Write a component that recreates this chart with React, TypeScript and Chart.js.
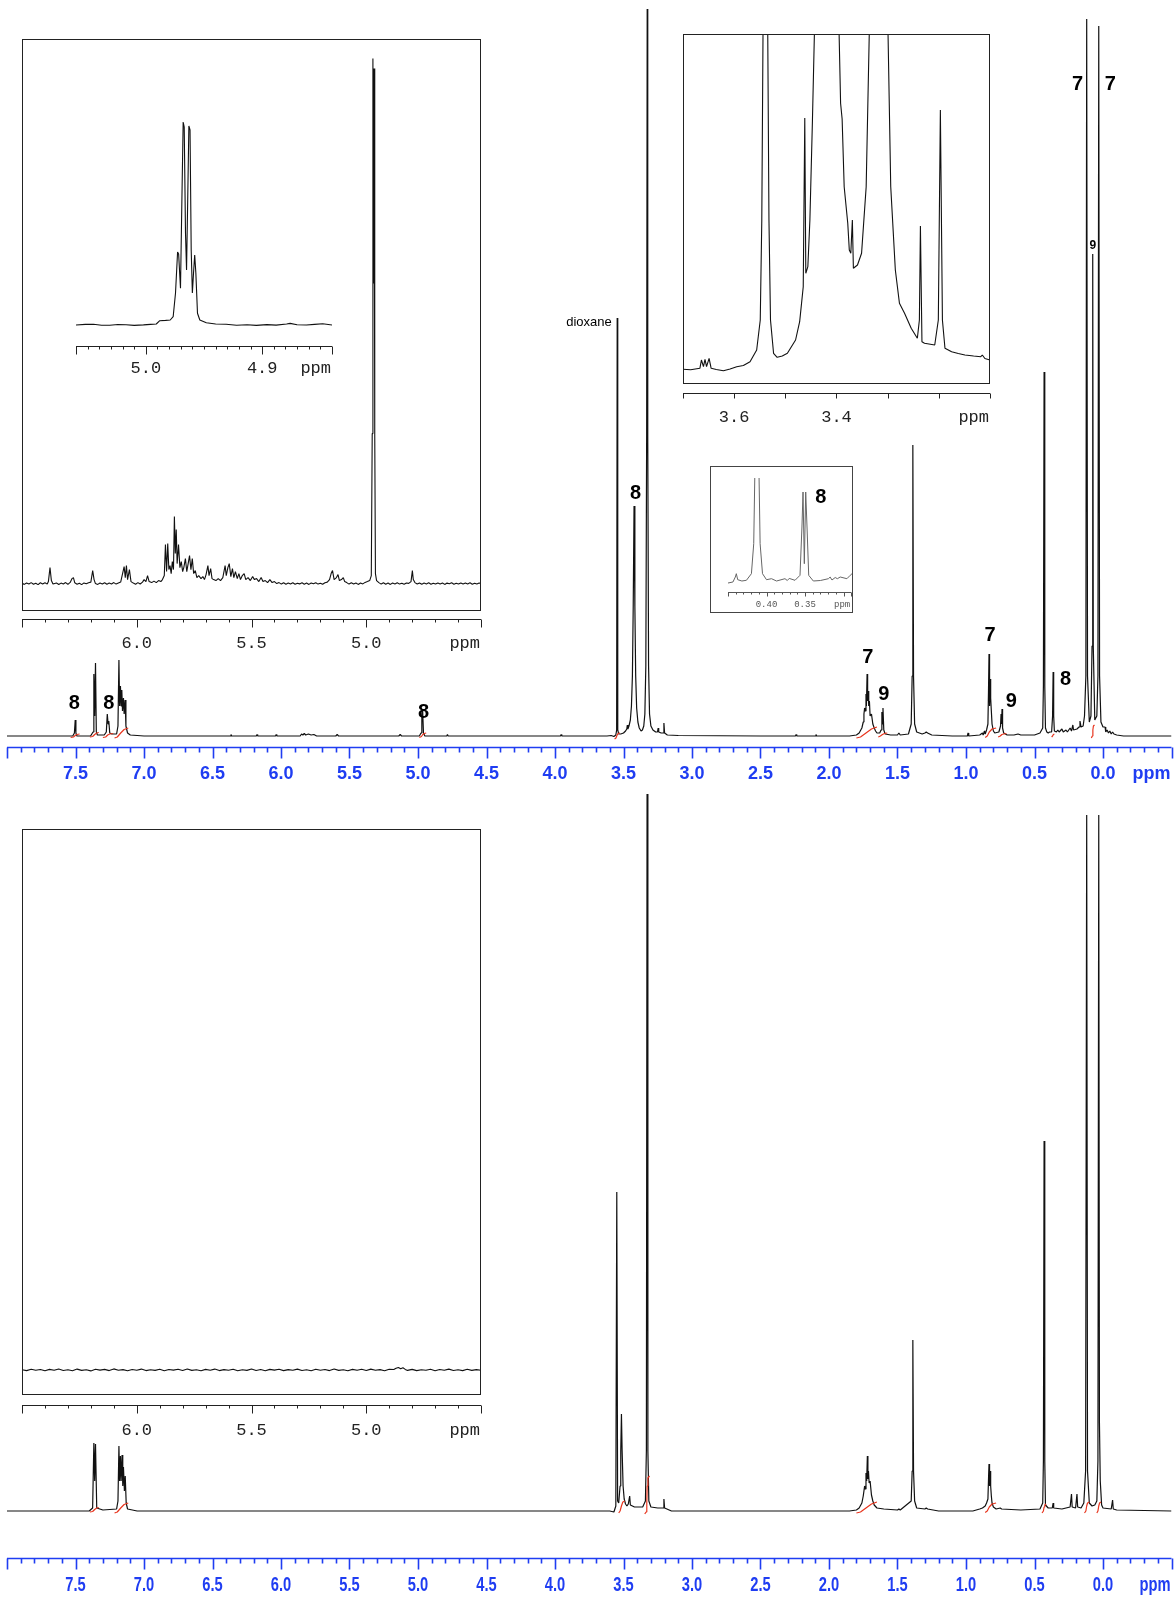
import React, { useEffect, useRef } from 'react';
import { Chart, registerables } from 'chart.js';

Chart.register(...registerables);

type P = [number, number];

// ================= tick labels =================
const MAIN_TICK_LABELS = [7.5, 7.0, 6.5, 6.0, 5.5, 5.0, 4.5, 4.0, 3.5, 3.0, 2.5, 2.0, 1.5, 1.0, 0.5, 0.0];
const WIDE_INSET_TICK_LABELS = [6.0, 5.5, 5.0];
const ZOOM_INSET_TICK_LABELS = [5.0, 4.9];
const OCH3_INSET_TICK_LABELS = [3.6, 3.4];
const SIME_INSET_TICK_LABELS = [0.4, 0.35];

// ================= top spectrum (ppm, intensity) =================
const TOP_SPECTRUM: P[] = [
  [8.0, 0], [7.6, 0], [7.52, 0], [7.508, 3], [7.502, 16], [7.497, 3], [7.49, 0],
  [7.39, 0], [7.372, 4], [7.366, 62], [7.36, 20], [7.354, 73], [7.348, 4], [7.34, 1],
  [7.29, 1], [7.275, 4], [7.268, 22], [7.262, 12], [7.257, 15], [7.25, 3], [7.235, 2],
  [7.2, 2], [7.19, 10], [7.183, 76], [7.178, 30], [7.172, 50], [7.167, 30], [7.162, 46],
  [7.157, 25], [7.15, 38], [7.145, 22], [7.138, 36], [7.132, 10], [7.12, 3], [7.1, 1], [7.0, 0],
  [6.9, 0], [6.37, 0], [6.365, 1.5], [6.36, 0], [6.18, 0], [6.175, 1.5], [6.17, 0],
  [6.04, 0], [6.035, 1.5], [6.03, 0], [5.86, 0], [5.85, 2], [5.84, 1], [5.83, 2.5],
  [5.82, 1], [5.8, 2], [5.78, 1], [5.76, 1.5], [5.74, 0], [5.6, 0], [5.59, 1.5], [5.58, 0],
  [5.14, 0], [5.13, 1.5], [5.12, 0],
  [4.99, 0], [4.978, 3], [4.972, 22], [4.966, 25], [4.96, 3], [4.95, 0],
  [4.79, 0], [4.785, 1.5], [4.78, 0], [3.96, 0], [3.955, 1.5], [3.95, 0],
  [3.62, 0], [3.59, 0.5], [3.57, -0.5], [3.556, 1], [3.55, 6], [3.546, 418], [3.542, 6],
  [3.535, 2], [3.52, 2], [3.5, 3], [3.485, 5], [3.476, 7], [3.472, 11], [3.468, 7],
  [3.46, 10], [3.45, 16], [3.442, 30], [3.435, 60], [3.429, 130], [3.423, 230],
  [3.417, 130], [3.411, 60], [3.404, 28], [3.395, 14], [3.385, 8], [3.372, 5],
  [3.362, 6], [3.352, 10], [3.344, 22], [3.337, 70], [3.331, 300], [3.327, 727],
  [3.323, 300], [3.317, 70], [3.31, 22], [3.3, 10], [3.285, 6], [3.265, 4],
  [3.252, 4], [3.247, 8], [3.243, 4], [3.225, 3], [3.21, 3], [3.205, 13], [3.2, 3],
  [3.18, 1], [3.1, 0.5], [2.5, 0], [2.245, 0], [2.24, 1.5], [2.235, 0], [2.1, 0],
  [2.095, 1.5], [2.09, 0],
  [1.85, 0], [1.8, 1], [1.78, 3], [1.76, 8], [1.75, 14], [1.745, 22], [1.74, 28],
  [1.735, 25], [1.73, 42], [1.727, 30], [1.722, 62], [1.718, 35], [1.714, 45],
  [1.71, 30], [1.705, 35], [1.7, 20], [1.69, 22], [1.68, 12], [1.67, 8], [1.66, 5],
  [1.65, 3], [1.63, 3], [1.62, 6], [1.614, 24], [1.61, 12], [1.606, 28], [1.6, 6],
  [1.59, 2], [1.55, 1], [1.5, 1], [1.49, 3], [1.48, 1], [1.42, 2], [1.4, 12],
  [1.393, 60], [1.388, 291], [1.383, 60], [1.375, 12], [1.36, 4], [1.32, 2],
  [1.3, 3], [1.29, 4], [1.28, 3], [1.25, 1], [1.1, 0],
  [0.99, 0], [0.985, 3], [0.98, 0], [0.9, 1], [0.88, 3], [0.875, 1], [0.865, 5],
  [0.86, 2], [0.85, 6], [0.84, 12], [0.836, 43], [0.832, 82], [0.828, 30],
  [0.824, 57], [0.82, 38], [0.815, 25], [0.81, 12], [0.8, 5], [0.79, 3], [0.76, 4],
  [0.748, 10], [0.744, 22], [0.74, 12], [0.737, 27], [0.733, 8], [0.725, 3],
  [0.7, 1], [0.65, 1], [0.62, 2], [0.6, 1], [0.5, 1], [0.46, 3], [0.44, 8],
  [0.435, 50], [0.43, 364], [0.425, 50], [0.42, 8], [0.41, 4], [0.4, 3], [0.39, 4],
  [0.375, 4], [0.368, 20], [0.364, 64], [0.36, 20], [0.355, 5], [0.34, 4],
  [0.33, 6], [0.32, 4], [0.3, 7], [0.29, 4], [0.27, 6], [0.26, 4], [0.24, 8],
  [0.23, 5], [0.22, 11], [0.215, 6], [0.19, 7], [0.175, 9], [0.168, 15],
  [0.16, 9], [0.145, 10], [0.135, 20], [0.125, 60], [0.119, 717], [0.113, 60],
  [0.1, 14], [0.088, 20], [0.08, 90], [0.075, 482], [0.071, 90], [0.06, 16],
  [0.045, 20], [0.037, 60], [0.031, 710], [0.025, 60], [0.015, 14], [0.0, 9],
  [-0.015, 9], [-0.02, 4], [-0.03, 6], [-0.04, 3], [-0.05, 5], [-0.06, 2],
  [-0.07, 4], [-0.08, 2], [-0.1, 1], [-0.15, 0], [-0.5, 0],
];

const TOP_INTEGRALS: P[][] = [
  [[7.535, -1.5], [7.515, -1], [7.502, 0.5], [7.49, 1.5], [7.47, 2]],
  [[7.395, -1], [7.375, -0.5], [7.36, 1.5], [7.345, 3], [7.33, 3.5]],
  [[7.3, -1.5], [7.28, -1], [7.265, 1], [7.25, 2], [7.225, 2.5]],
  [[7.215, -2], [7.195, -1], [7.17, 3], [7.145, 6.5], [7.115, 8]],
  [[4.99, -1.5], [4.975, -0.5], [4.965, 1.5], [4.955, 2.5], [4.94, 3]],
  [[3.565, -3], [3.555, -2], [3.548, 0.5], [3.54, 2.5], [3.525, 3]],
  [[1.8, -2], [1.77, -1], [1.73, 3], [1.69, 7], [1.65, 9]],
  [[1.64, -1], [1.625, 0], [1.61, 1.5], [1.595, 2.5], [1.575, 3]],
  [[0.86, -1.5], [0.845, 0], [0.83, 4], [0.81, 7], [0.78, 8]],
  [[0.765, -1], [0.75, 0], [0.738, 1.5], [0.725, 2], [0.705, 2.5]],
  [[0.375, -1], [0.368, 0], [0.362, 1.5], [0.355, 2]],
  [[0.085, -2], [0.078, 0], [0.074, 6], [0.07, 10], [0.062, 11]],
];

// [text, ppm, height, style]
const TOP_PEAK_LABELS: [string, number, number, string][] = [
  ['8', 7.508, 33, 'big'],
  ['8', 7.256, 33, 'big'],
  ['8', 4.96, 24, 'big'],
  ['dioxane', 3.586, 414, 'note'],
  ['8', 3.412, 243, 'big'],
  ['7', 1.717, 79, 'big'],
  ['9', 1.6, 42, 'big'],
  ['7', 0.825, 101, 'big'],
  ['9', 0.67, 35, 'big'],
  ['8', 0.274, 57, 'big'],
  ['7', 0.185, 652, 'big'],
  ['7', -0.053, 652, 'big'],
  ['9', 0.074, 490, 'small'],
];

// ================= top wide inset 6.5–4.5 ppm =================
const WIDE_INSET_SPECTRUM: P[] = [
  [6.5, 0.5], [6.49, -0.8], [6.48, 0.6], [6.47, -0.4], [6.46, 1.0], [6.45, -0.6], [6.44, 0.4],
  [6.43, -1.0], [6.42, 0.8], [6.41, -0.3], [6.4, 0.9], [6.39, -0.5], [6.385, 2], [6.378, 16],
  [6.372, 3], [6.365, -0.5], [6.35, 0.7], [6.34, -0.9], [6.33, 0.5], [6.32, -0.3], [6.31, 1.0],
  [6.3, -0.7], [6.29, 1.2], [6.282, 5], [6.276, 6], [6.27, 0.8], [6.26, -0.6], [6.25, 0.4],
  [6.24, -1.0], [6.23, 0.7], [6.22, -0.2], [6.21, 0.9], [6.2, 1.5], [6.192, 13], [6.186, 4],
  [6.18, 0], [6.17, -0.8], [6.16, 0.6], [6.15, -0.4], [6.14, 0.9], [6.13, -0.6], [6.12, 0.5],
  [6.11, -0.3], [6.1, 1.0], [6.09, -0.5], [6.08, 0.6], [6.07, 1.5], [6.055, 17], [6.05, 6],
  [6.045, 18], [6.04, 4], [6.032, 14], [6.025, 2], [6.015, 0.5], [6.005, -0.6], [5.995, 1.0],
  [5.985, -0.4], [5.975, 1.5], [5.968, 4], [5.96, 2], [5.953, 8], [5.946, 2], [5.935, 1],
  [5.925, 2.5], [5.915, 1], [5.905, 3], [5.895, 2], [5.888, 4], [5.88, 8], [5.875, 39],
  [5.87, 12], [5.865, 40], [5.86, 14], [5.855, 18], [5.85, 10], [5.845, 22], [5.84, 14],
  [5.836, 67], [5.832, 30], [5.828, 54], [5.824, 20], [5.818, 39], [5.812, 16], [5.806, 22],
  [5.8, 12], [5.795, 16], [5.788, 25], [5.782, 12], [5.776, 20], [5.77, 28], [5.764, 14],
  [5.758, 25], [5.752, 10], [5.745, 13], [5.738, 6], [5.73, 8], [5.72, 5], [5.712, 7],
  [5.705, 4], [5.698, 9], [5.69, 18], [5.685, 8], [5.678, 15], [5.672, 5], [5.665, 4],
  [5.655, 3], [5.645, 5], [5.635, 3], [5.625, 6], [5.615, 18], [5.61, 8], [5.603, 16],
  [5.597, 20], [5.59, 7], [5.583, 15], [5.577, 6], [5.57, 12], [5.562, 5], [5.555, 10],
  [5.548, 4], [5.54, 8], [5.532, 10], [5.525, 4], [5.515, 6], [5.505, 3], [5.495, 7],
  [5.487, 4], [5.478, 5], [5.468, 2], [5.458, 6], [5.45, 2], [5.44, 3], [5.43, 1], [5.42, 4],
  [5.41, 1], [5.4, 2], [5.39, 0], [5.38, 1], [5.37, -0.5], [5.36, 0.8], [5.35, -0.6],
  [5.34, 0.5], [5.33, -0.4], [5.32, 0.9], [5.31, -0.7], [5.3, 0.4], [5.29, -0.3], [5.28, 0.8],
  [5.27, -0.6], [5.26, 0.5], [5.25, -0.8], [5.24, 0.6], [5.23, -0.2], [5.22, 0.9], [5.21, -0.5],
  [5.2, 0.4], [5.19, -0.7], [5.18, 0.8], [5.17, 1.5], [5.16, 4], [5.153, 10], [5.147, 13],
  [5.14, 4], [5.13, 6], [5.123, 9], [5.117, 3], [5.108, 4], [5.1, 6], [5.094, 2], [5.085, 1],
  [5.075, -0.5], [5.065, 0.8], [5.055, -0.4], [5.045, 0.6], [5.035, -0.8], [5.025, 0.5],
  [5.015, -0.3], [5.005, 1.2], [4.995, 2], [4.985, 3], [4.978, 8], [4.974, 150], [4.971, 525],
  [4.968, 300], [4.966, 515], [4.963, 150], [4.96, 10], [4.955, 3], [4.945, 1], [4.935, -0.5],
  [4.925, 0.8], [4.915, -0.6], [4.905, 0.5], [4.895, -0.8], [4.885, 0.6], [4.875, -0.3],
  [4.865, 0.9], [4.855, -0.5], [4.845, 0.4], [4.835, -0.7], [4.825, 0.6], [4.815, 0.2],
  [4.805, 2], [4.799, 13], [4.795, 4], [4.788, 1], [4.778, -0.4], [4.768, 0.7], [4.758, -0.6],
  [4.748, 0.5], [4.738, -0.3], [4.728, 0.8], [4.718, -0.7], [4.708, 0.4], [4.698, -0.5],
  [4.688, 0.7], [4.678, -0.4], [4.668, 0.6], [4.658, -0.8], [4.648, 0.5], [4.638, -0.2],
  [4.628, 0.8], [4.618, -0.6], [4.608, 0.4], [4.598, -0.4], [4.588, 0.7], [4.578, -0.5],
  [4.568, 0.6], [4.558, -0.3], [4.548, 0.8], [4.538, -0.6], [4.528, 0.4], [4.518, -0.5],
  [4.508, 0.6], [4.5, 0],
];

// ================= zoom of the 4.97 multiplet =================
const ZOOM_INSET_SPECTRUM: P[] = [
  [5.06, 0], [5.052, 0.6], [5.045, 0.7], [5.038, -0.2], [5.031, -0.3], [5.024, 0.5],
  [5.017, 0.2], [5.01, -0.4], [5.002, 0.1], [4.996, 0.6], [4.991, 1], [4.988, 4.3],
  [4.983, 4.6], [4.979, 5], [4.9765, 8.3], [4.9745, 31.7], [4.9727, 73], [4.9718, 71],
  [4.9702, 36.7], [4.969, 125], [4.9679, 203], [4.967, 198], [4.9659, 92], [4.965, 55],
  [4.964, 125], [4.963, 199], [4.962, 195], [4.961, 75], [4.96, 32], [4.959, 52],
  [4.958, 70], [4.957, 52], [4.9556, 11.7], [4.9536, 5], [4.948, 2.3], [4.94, 1],
  [4.931, 0.7], [4.922, -0.2], [4.913, 0.3], [4.905, -0.4], [4.896, 0.4], [4.888, -0.1],
  [4.879, 1], [4.876, 1.6], [4.87, 0.2], [4.862, 0], [4.855, 0.6], [4.848, 1.2], [4.84, 0],
];

// ================= OCH3 region inset 3.7–3.1 ppm =================
const OCH3_INSET_SPECTRUM: P[] = [
  [3.7, 14.7], [3.685, 14.2], [3.667, 15.7], [3.664, 24], [3.66, 17.3], [3.657, 24.7],
  [3.654, 17.3], [3.649, 25.7], [3.645, 15.7], [3.635, 14.5], [3.621, 13.3], [3.608, 15],
  [3.595, 17.3], [3.582, 18.5], [3.569, 22.3], [3.556, 34], [3.549, 64], [3.546, 164],
  [3.543, 400], [3.535, 400], [3.532, 164], [3.529, 64], [3.523, 30.7], [3.516, 26.7],
  [3.506, 28], [3.496, 30.7], [3.48, 44], [3.472, 62.3], [3.465, 97.3], [3.462, 266],
  [3.46, 110.7], [3.456, 117.3], [3.452, 164], [3.447, 264], [3.441, 400], [3.397, 400],
  [3.392, 280.7], [3.389, 265], [3.385, 197.3], [3.378, 160.7], [3.375, 134], [3.372, 130.7],
  [3.369, 164], [3.367, 115.7], [3.359, 119], [3.351, 130.7], [3.342, 197.3], [3.334, 400],
  [3.301, 400], [3.294, 197.3], [3.285, 114], [3.277, 80.7], [3.267, 70.7], [3.254, 55.7],
  [3.242, 45.7], [3.238, 64], [3.236, 158], [3.233, 42.3], [3.228, 40.7], [3.208, 39],
  [3.201, 64], [3.197, 274], [3.193, 64], [3.188, 35.7], [3.175, 32.3], [3.162, 30.5],
  [3.149, 29], [3.132, 28], [3.118, 27.3], [3.115, 29], [3.11, 25.5], [3.1, 24],
];

// ================= Si-CH2 region inset 0.45–0.29 ppm =================
const SIME_INSET_SPECTRUM: P[] = [
  [0.45, 9], [0.4436, 10], [0.4405, 15], [0.4392, 18.3], [0.4374, 12.3], [0.432, 11],
  [0.4261, 11.7], [0.4196, 18.3], [0.4166, 48.3], [0.4149, 130], [0.41, 130], [0.4083, 48.3],
  [0.4052, 18.3], [0.4, 12.3], [0.3935, 13.3], [0.387, 11], [0.376, 13.3], [0.373, 11.5],
  [0.3705, 13.6], [0.363, 11.7], [0.3565, 16.7], [0.354, 65], [0.3526, 100], [0.3509, 28.3],
  [0.3491, 100], [0.3474, 65], [0.3452, 16.7], [0.3392, 11], [0.33, 11.5], [0.3196, 13.3],
  [0.3174, 15], [0.315, 12], [0.3108, 14.5], [0.308, 13.3], [0.3043, 15], [0.2956, 13.3],
  [0.2913, 16.7], [0.289, 18.3],
];

// ================= bottom spectrum =================
const BOTTOM_SPECTRUM: P[] = [
  [8.0, 0], [7.4, 0], [7.375, 3], [7.366, 68], [7.36, 30], [7.354, 67], [7.345, 3], [7.3, 1],
  [7.2, 2], [7.19, 10], [7.183, 65], [7.178, 30], [7.172, 55], [7.167, 30], [7.16, 56],
  [7.155, 25], [7.15, 44], [7.143, 20], [7.137, 35], [7.13, 8], [7.12, 2], [7.05, 0],
  [3.7, 0], [3.6, 0], [3.57, -1], [3.556, 5], [3.549, 319], [3.543, 10], [3.535, 8],
  [3.525, 25], [3.52, 60], [3.515, 97], [3.51, 60], [3.503, 25], [3.495, 12], [3.485, 7],
  [3.475, 5], [3.465, 7], [3.455, 15], [3.45, 6], [3.42, 4], [3.36, 4], [3.34, 10],
  [3.333, 60], [3.328, 717], [3.322, 60], [3.315, 10], [3.3, 4], [3.25, 3], [3.21, 3],
  [3.205, 12], [3.2, 3], [3.15, 0],
  [1.85, 0], [1.8, 1], [1.78, 3], [1.76, 8], [1.75, 15], [1.74, 25], [1.735, 22], [1.73, 38],
  [1.725, 30], [1.72, 55], [1.716, 32], [1.712, 40], [1.707, 28], [1.7, 30], [1.69, 16],
  [1.68, 10], [1.67, 6], [1.65, 3], [1.6, 2], [1.5, 1], [1.49, 2], [1.48, 1], [1.4, 10],
  [1.393, 40], [1.388, 171], [1.383, 40], [1.375, 10], [1.36, 3], [1.3, 2], [1.29, 3],
  [1.28, 2], [1.2, 0],
  [0.95, 0], [0.9, 2], [0.88, 3], [0.86, 5], [0.85, 8], [0.84, 12], [0.835, 35], [0.832, 47],
  [0.828, 25], [0.824, 40], [0.82, 25], [0.815, 15], [0.81, 8], [0.8, 4], [0.78, 2],
  [0.75, 3], [0.74, 2], [0.6, 1],
  [0.46, 2], [0.44, 8], [0.435, 50], [0.43, 370], [0.425, 50], [0.42, 6], [0.4, 3],
  [0.37, 3], [0.364, 8], [0.36, 3], [0.3, 2], [0.24, 4], [0.23, 17], [0.225, 4], [0.2, 3],
  [0.19, 17], [0.185, 4], [0.16, 3], [0.14, 8], [0.127, 40], [0.119, 696], [0.113, 40],
  [0.1, 8], [0.08, 5], [0.06, 6], [0.045, 10], [0.037, 50], [0.031, 696], [0.026, 88],
  [0.02, 30], [0.01, 6], [0.0, 3], [-0.06, 2], [-0.07, 11], [-0.075, 2], [-0.1, 1], [-0.5, 0],
];

const BOTTOM_INTEGRALS: P[][] = [
  [[7.395, -1], [7.375, -0.5], [7.36, 1.5], [7.345, 3], [7.33, 3.5]],
  [[7.215, -2], [7.195, -1], [7.17, 3], [7.145, 6.5], [7.115, 8]],
  [[3.535, -2], [3.525, 0], [3.515, 5], [3.505, 9], [3.49, 10]],
  [[3.345, -3], [3.335, -1], [3.33, 8], [3.327, 25], [3.322, 33], [3.31, 35]],
  [[1.8, -2], [1.77, -1], [1.73, 3], [1.69, 7], [1.65, 9]],
  [[0.86, -1.5], [0.845, 0], [0.83, 4], [0.81, 7], [0.78, 8]],
  [[0.445, -2], [0.435, 0], [0.43, 4], [0.425, 6], [0.415, 7]],
  [[0.135, -2], [0.125, 0], [0.119, 5], [0.113, 8], [0.1, 9]],
  [[0.045, -2], [0.037, 0], [0.031, 5], [0.025, 8], [0.015, 9]],
];

const BOTTOM_INSET_SPECTRUM: P[] = [
  [6.5, 0.3], [6.48, -0.6], [6.46, 0.8], [6.44, -0.2], [6.42, 0.5], [6.4, -0.8], [6.38, 0.6],
  [6.36, -0.3], [6.34, 1.0], [6.32, -0.5], [6.3, 0.2], [6.28, -0.7], [6.26, 0.9], [6.24, -0.4],
  [6.22, 0.3], [6.2, -0.9], [6.18, 0.7], [6.16, -0.1], [6.14, 0.6], [6.12, -0.6], [6.1, 1.1],
  [6.08, -0.3], [6.06, 0.4], [6.04, -0.8], [6.02, 0.5], [6.0, -0.2], [5.98, 0.9], [5.96, -0.6],
  [5.94, 0.3], [5.92, -0.4], [5.9, 0.8], [5.88, -0.7], [5.86, 0.5], [5.84, -0.1], [5.82, 0.7],
  [5.8, -0.5], [5.78, 1.0], [5.76, -0.4], [5.74, 0.2], [5.72, -0.8], [5.7, 0.6], [5.68, -0.3],
  [5.66, 0.9], [5.64, -0.6], [5.62, 0.4], [5.6, -0.2], [5.58, 0.8], [5.56, -0.7], [5.54, 0.3],
  [5.52, -0.4], [5.5, 1.0], [5.48, -0.5], [5.46, 0.5], [5.44, -0.8], [5.42, 0.6], [5.4, -0.1],
  [5.38, 0.7], [5.36, -0.6], [5.34, 0.4], [5.32, -0.3], [5.3, 0.9], [5.28, -0.5], [5.26, 0.2],
  [5.24, -0.7], [5.22, 0.8], [5.2, -0.2], [5.18, 0.5], [5.16, -0.6], [5.14, 1.0], [5.12, -0.4],
  [5.1, 0.3], [5.08, -0.8], [5.06, 0.6], [5.04, -0.3], [5.02, 0.7], [5.0, -0.5], [4.98, 0.9],
  [4.96, -0.2], [4.94, 0.4], [4.92, -0.7], [4.9, 0.8], [4.88, 0.5], [4.87, 1.8], [4.86, 2.5],
  [4.85, 1.2], [4.84, 2.2], [4.83, 0.6], [4.82, -0.4], [4.8, 0.6], [4.78, -0.6], [4.76, 0.3],
  [4.74, -0.2], [4.72, 0.8], [4.7, -0.7], [4.68, 0.5], [4.66, -0.3], [4.64, 0.9], [4.62, -0.5],
  [4.6, 0.2], [4.58, -0.6], [4.56, 0.7], [4.54, -0.4], [4.52, 0.4], [4.5, -0.2],
];

// ================= styling =================
const BLUE = '#1f3df2';
const INK = '#111111';
const RED = '#e8361f';
const SANS = '"Liberation Sans", Arial, Helvetica, sans-serif';
const MONO = '"Liberation Mono", "DejaVu Sans Mono", monospace';
const LABEL_FONTS: Record<string, string> = {
  big: `bold 20px ${SANS}`,
  small: `bold 12px ${SANS}`,
  note: `13px ${SANS}`,
};

interface AxisSpec {
  from: number; to: number; minor: number; major: number; endsMajor: boolean;
  offset: number; minorLen: number; majorLen: number; color: string; width: number;
  labels: number[]; digits: number; font: string; labelDy: number; textColor: string;
  unit: string; unitFont: string; scaleX: number;
}
interface TextSpec { text: string; ppm: number; h: number; font: string; align: CanvasTextAlign; color: string }
interface SeriesSpec { data: P[]; color: string; width: number; order: number }
interface ChartSpec {
  key: string; left: number; top: number; width: number; height: number;
  area: { l: number; t: number; r: number; b: number };
  x: [number, number]; y: [number, number];
  series: SeriesSpec[];
  axis?: AxisSpec;
  frame?: { l: number; t: number; r: number; b: number; color: string; width: number };
  texts?: TextSpec[];
}

function drawText(ctx: CanvasRenderingContext2D, t: string, x: number, y: number, align: CanvasTextAlign, sx: number) {
  ctx.save();
  ctx.translate(x, y);
  ctx.scale(sx, 1);
  ctx.textAlign = align;
  ctx.fillText(t, 0, 0);
  ctx.restore();
}

function drawAxis(ctx: CanvasRenderingContext2D, xs: any, a: any, ax: AxisSpec) {
  const y0 = Math.round(a.bottom + ax.offset) + 0.5;
  const xa = xs.getPixelForValue(ax.from);
  const xb = xs.getPixelForValue(ax.to);
  ctx.strokeStyle = ax.color;
  ctx.lineWidth = ax.width;
  ctx.beginPath();
  ctx.moveTo(xa, y0);
  ctx.lineTo(xb, y0);
  ctx.stroke();
  const n = Math.round((ax.from - ax.to) / ax.minor);
  ctx.beginPath();
  for (let i = 0; i <= n; i++) {
    const v = ax.from - i * ax.minor;
    const q = v / ax.major;
    const isMajor = Math.abs(q - Math.round(q)) < 1e-6 || (ax.endsMajor && (i === 0 || i === n));
    const px = Math.round(xs.getPixelForValue(v)) + 0.5;
    ctx.moveTo(px, y0);
    ctx.lineTo(px, y0 + (isMajor ? ax.majorLen : ax.minorLen));
  }
  ctx.stroke();
  ctx.fillStyle = ax.textColor;
  ctx.textBaseline = 'middle';
  ctx.font = ax.font;
  for (const v of ax.labels) {
    drawText(ctx, v.toFixed(ax.digits), xs.getPixelForValue(v), y0 + ax.labelDy, 'center', ax.scaleX);
  }
  if (ax.unit) {
    ctx.font = ax.unitFont;
    drawText(ctx, ax.unit, xb - 1, y0 + ax.labelDy, 'right', ax.scaleX);
  }
}

function makeDecor(s: ChartSpec) {
  return {
    id: 'decor_' + s.key,
    afterDatasetsDraw(chart: any) {
      const ctx = chart.ctx as CanvasRenderingContext2D;
      const xs = chart.scales.x;
      const ys = chart.scales.y;
      const a = chart.chartArea;
      ctx.save();
      if (s.frame) {
        const f = s.frame;
        ctx.strokeStyle = f.color;
        ctx.lineWidth = f.width;
        const L = Math.round(a.left - f.l) + 0.5;
        const T = Math.round(a.top - f.t) + 0.5;
        const R = Math.round(a.right + f.r) - 0.5;
        const B = Math.round(a.bottom + f.b) - 0.5;
        ctx.strokeRect(L, T, R - L, B - T);
      }
      if (s.axis) drawAxis(ctx, xs, a, s.axis);
      if (s.texts) {
        ctx.textBaseline = 'middle';
        for (const t of s.texts) {
          ctx.font = t.font;
          ctx.fillStyle = t.color;
          ctx.textAlign = t.align;
          ctx.fillText(t.text, xs.getPixelForValue(t.ppm), ys.getPixelForValue(t.h));
        }
      }
      ctx.restore();
    },
  };
}

function buildConfig(s: ChartSpec): any {
  const padding = {
    left: s.area.l - s.left,
    top: s.area.t - s.top,
    right: s.left + s.width - s.area.r,
    bottom: s.top + s.height - s.area.b,
  };
  return {
    type: 'line',
    data: {
      datasets: s.series.map((se) => ({
        data: se.data.map(([x, y]) => ({ x, y })),
        borderColor: se.color,
        borderWidth: se.width,
        pointRadius: 0,
        tension: 0,
        fill: false,
        order: se.order,
        borderJoinStyle: 'bevel',
        borderCapStyle: 'butt',
      })),
    },
    options: {
      animation: false,
      responsive: false,
      maintainAspectRatio: false,
      devicePixelRatio: 1,
      events: [],
      layout: { padding },
      scales: {
        x: { type: 'linear', reverse: true, min: s.x[0], max: s.x[1], display: false },
        y: { type: 'linear', min: s.y[0], max: s.y[1], display: false },
      },
      plugins: { legend: { display: false }, tooltip: { enabled: false } },
    },
    plugins: [makeDecor(s)],
  };
}

function mainAxis(offset: number, labelDy: number, font: string, sx: number): AxisSpec {
  return {
    from: 8.0, to: -0.5, minor: 0.1, major: 0.5, endsMajor: true, offset,
    minorLen: 5, majorLen: 11, color: BLUE, width: 1.6, labels: MAIN_TICK_LABELS, digits: 1,
    font, labelDy, textColor: BLUE, unit: 'ppm', unitFont: font, scaleX: sx,
  };
}

function insetAxis(from: number, to: number, minor: number, major: number, labels: number[], digits: number,
  offset: number, minorLen: number, majorLen: number, labelDy: number, font: string, color: string, endsMajor: boolean): AxisSpec {
  return {
    from, to, minor, major, endsMajor, offset, minorLen, majorLen, color, width: 1,
    labels, digits, font, labelDy, textColor: color, unit: 'ppm', unitFont: font, scaleX: 1,
  };
}

const integralSeries = (list: P[][]): SeriesSpec[] => list.map((d) => ({ data: d, color: RED, width: 1.2, order: 0 }));

const TOP_TEXTS: TextSpec[] = TOP_PEAK_LABELS.map(([text, ppm, h, st]) => ({
  text, ppm, h, font: LABEL_FONTS[st], align: st === 'note' ? 'right' : 'center', color: '#000',
}));

const SPECS: ChartSpec[] = [
  {
    key: 'top', left: 0, top: 0, width: 1174, height: 800,
    area: { l: 7, t: 0, r: 1171.5, b: 746 }, x: [-0.5, 8.0], y: [-10, 736],
    series: [{ data: TOP_SPECTRUM, color: INK, width: 1.2, order: 1 }, ...integralSeries(TOP_INTEGRALS)],
    axis: mainAxis(1, 27, `bold 18px ${SANS}`, 1),
    texts: TOP_TEXTS,
  },
  {
    key: 'bottom', left: 0, top: 790, width: 1174, height: 807,
    area: { l: 7, t: 790, r: 1171.5, b: 1521 }, x: [-0.5, 8.0], y: [-10, 721],
    series: [{ data: BOTTOM_SPECTRUM, color: INK, width: 1.2, order: 1 }, ...integralSeries(BOTTOM_INTEGRALS)],
    axis: mainAxis(37, 27, `bold 21px ${SANS}`, 0.7),
  },
  {
    key: 'wide', left: 10, top: 30, width: 480, height: 630,
    area: { l: 22, t: 39, r: 481, b: 611 }, x: [4.5, 6.5], y: [-27.4, 544.6],
    series: [{ data: WIDE_INSET_SPECTRUM, color: INK, width: 1.1, order: 1 }],
    frame: { l: 0, t: 0, r: 0, b: 0, color: '#222', width: 1 },
    axis: insetAxis(6.5, 4.5, 0.1, 0.5, WIDE_INSET_TICK_LABELS, 1, 8, 3, 8, 24, `17px ${MONO}`, '#222', true),
  },
  {
    key: 'zoom', left: 70, top: 110, width: 270, height: 275,
    area: { l: 76, t: 115, r: 332, b: 346 }, x: [4.84, 5.06], y: [-21, 210],
    series: [{ data: ZOOM_INSET_SPECTRUM, color: INK, width: 1.1, order: 1 }],
    axis: insetAxis(5.06, 4.84, 0.01, 0.1, ZOOM_INSET_TICK_LABELS, 1, 0, 3, 8, 22, `17px ${MONO}`, '#222', true),
  },
  {
    key: 'och3', left: 676, top: 28, width: 320, height: 400,
    area: { l: 683, t: 34, r: 990, b: 384 }, x: [3.1, 3.7], y: [0, 350],
    series: [{ data: OCH3_INSET_SPECTRUM, color: INK, width: 1.1, order: 1 }],
    frame: { l: 0, t: 0, r: 0, b: 0, color: '#222', width: 1 },
    axis: insetAxis(3.7, 3.1, 0.1, 0.1, OCH3_INSET_TICK_LABELS, 1, 9, 5, 5, 24, `17px ${MONO}`, '#222', true),
  },
  {
    key: 'sime', left: 705, top: 460, width: 155, height: 160,
    area: { l: 728, t: 478, r: 852, b: 592 }, x: [0.289, 0.45], y: [0, 114],
    series: [{ data: SIME_INSET_SPECTRUM, color: '#666', width: 1, order: 1 }],
    frame: { l: 18, t: 12, r: 1, b: 21, color: '#444', width: 1 },
    axis: insetAxis(0.45, 0.29, 0.01, 0.05, SIME_INSET_TICK_LABELS, 2, 0, 2, 4, 12, `9px ${MONO}`, '#555', true),
    texts: [{ text: '8', ppm: 0.3295, h: 95, font: LABEL_FONTS.big, align: 'center', color: '#000' }],
  },
  {
    key: 'wide2', left: 10, top: 820, width: 480, height: 625,
    area: { l: 22, t: 829, r: 481, b: 1395 }, x: [4.5, 6.5], y: [-25, 541],
    series: [{ data: BOTTOM_INSET_SPECTRUM, color: INK, width: 1.1, order: 1 }],
    frame: { l: 0, t: 0, r: 0, b: 0, color: '#222', width: 1 },
    axis: insetAxis(6.5, 4.5, 0.1, 0.5, WIDE_INSET_TICK_LABELS, 1, 10, 3, 8, 25, `17px ${MONO}`, '#222', true),
  },
];

function SpecCanvas({ spec }: { spec: ChartSpec }) {
  const ref = useRef<HTMLCanvasElement | null>(null);
  useEffect(() => {
    const c = ref.current;
    if (!c) return;
    const chart = new Chart(c, buildConfig(spec));
    return () => chart.destroy();
  }, [spec]);
  return (
    <canvas
      ref={ref}
      width={spec.width}
      height={spec.height}
      style={{ position: 'absolute', left: spec.left, top: spec.top, width: spec.width, height: spec.height }}
    />
  );
}

export default function App() {
  return (
    <div style={{ position: 'absolute', left: 0, top: 0, width: 1174, height: 1597, background: '#fff', overflow: 'hidden' }}>
      {SPECS.map((s) => (
        <SpecCanvas key={s.key} spec={s} />
      ))}
    </div>
  );
}
